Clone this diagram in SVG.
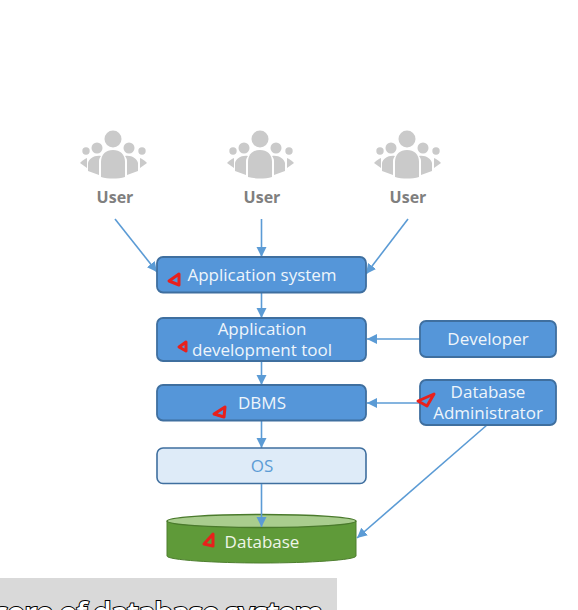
<svg xmlns="http://www.w3.org/2000/svg" width="578" height="610" viewBox="0 0 578 610">
<style>
text{font-family:"Open Sans","Noto Sans","Liberation Sans",sans-serif;text-anchor:middle}
.box{fill:#5596d9;stroke:#3f6f9f;stroke-width:1.8}
.lbl{fill:#eef5fb;font-size:17px}
.usr{fill:#7f7f7f;font-size:16px;font-weight:700}
.pp{fill:#cacaca}
.c{fill:none;stroke:#5b9bd5;stroke-width:1.6;marker-end:url(#a)}
.ink{fill:none;stroke:#e8201c;stroke-width:3;stroke-linejoin:round}
</style>
<defs>
<marker id="a" markerUnits="userSpaceOnUse" markerWidth="11" markerHeight="12" refX="10" refY="6" orient="auto"><path d="M0 1 L10 6 L0 11Z" fill="#5b9bd5"/></marker>
<g id="people">
<circle cx="-1" cy="-12" r="8.500" class="pp"/>
<circle cx="-17" cy="-3" r="5.500" class="pp"/><circle cx="15" cy="-3" r="5.500" class="pp"/>
<circle cx="-28" cy="0" r="3.700" class="pp"/><circle cx="28" cy="0" r="3.700" class="pp"/>
<path class="pp" d="M-13 26 V11 C-13 3 -8 -1 -1 -1 C6 -1 11 3 11 11 V26 C4 28 -6 28 -13 26Z"/>
<path class="pp" d="M-15 24 V10 C-15 8 -14 6 -13 5 C-20 4 -25 8 -26 12 V20Z"/>
<path class="pp" d="M13 24 V10 C13 8 12 6 11 5 C18 4 23 8 24 12 V20Z"/>
<path class="pp" d="M-27 17 V7 C-30 8 -32 10 -34 12Z"/>
<path class="pp" d="M26 17 V7 C29 8 31 10 33 12Z"/>
</g>
</defs>
<rect width="578" height="610" fill="#fff"/>
<g id="connectors">
<path class="c" d="M115 219 L157 272"/>
<path class="c" d="M261.500 219 V257"/>
<path class="c" d="M408 219 L366 274"/>
<path class="c" d="M261.500 293 V318"/>
<path class="c" d="M261.500 361 V385"/>
<path class="c" d="M261.500 421 V448"/>
<path class="c" d="M420 339 H367"/>
<path class="c" d="M420 403 H367"/>
<path class="c" d="M487 425 L357 538"/>
</g>
<g id="user1"><use href="#people" x="114" y="151"/><text class="usr" x="115" y="203">User</text></g>
<g id="user2"><use href="#people" x="261" y="151"/><text class="usr" x="262" y="203">User</text></g>
<g id="user3"><use href="#people" x="408" y="151"/><text class="usr" x="408" y="203">User</text></g>
<g id="app-system"><rect class="box" x="157" y="257" width="209" height="35.500" rx="6"/><text class="lbl" x="262" y="281">Application system</text></g>
<g id="dev-tool"><rect class="box" x="157" y="318" width="209" height="43" rx="6"/><text class="lbl" x="262" y="335">Application</text><text class="lbl" x="262" y="356">development tool</text></g>
<g id="dbms"><rect class="box" x="157" y="385" width="209" height="35.500" rx="6"/><text class="lbl" x="262" y="409">DBMS</text></g>
<g id="os"><rect x="157" y="448" width="209" height="35.500" rx="6" fill="#deebf8" stroke="#3f6f9f" stroke-width="1.600"/><text x="262" y="472" font-size="17" fill="#5b9bd5">OS</text></g>
<g id="developer"><rect class="box" x="420" y="321" width="136" height="36" rx="6"/><text class="lbl" x="488" y="345">Developer</text></g>
<g id="dba"><rect class="box" x="420" y="380" width="136" height="45" rx="6"/><text class="lbl" x="488" y="398">Database</text><text class="lbl" x="488" y="419">Administrator</text></g>
<g id="database">
<path d="M167 521 V556 C167 560 215 563 262 563 C309 563 356 560 356 556 V521Z" fill="#5f9a39" stroke="#4e7f2f" stroke-width="1"/>
<ellipse cx="261.500" cy="521" rx="94.500" ry="6.500" fill="#a9cd8e" stroke="#4a7a2c" stroke-width="1.400"/>
<path class="c" d="M261.500 484 V527"/>
<text x="262" y="548" font-size="17" fill="#eef5e8">Database</text>
</g>
<g id="annotations">
<path class="ink" d="M179 274 L169 281 L179 285Z"/>
<path class="ink" d="M186 342 L179 347 L186 351Z"/>
<path class="ink" d="M225 407 L214 414 L224 417Z"/>
<path class="ink" d="M434 394 L418 401 L427 406Z"/>
<path class="ink" d="M213 534 L213 546 L204 544Z"/>
</g>
<g id="caption">
<rect x="0" y="578" width="337" height="32" fill="#d9d9d9"/>
<text x="323" y="624" font-size="30" font-weight="600" style="text-anchor:end" fill="#fff" stroke="#000" stroke-width="2" paint-order="stroke" textLength="330" lengthAdjust="spacing">core of database system</text>
</g>
</svg>
